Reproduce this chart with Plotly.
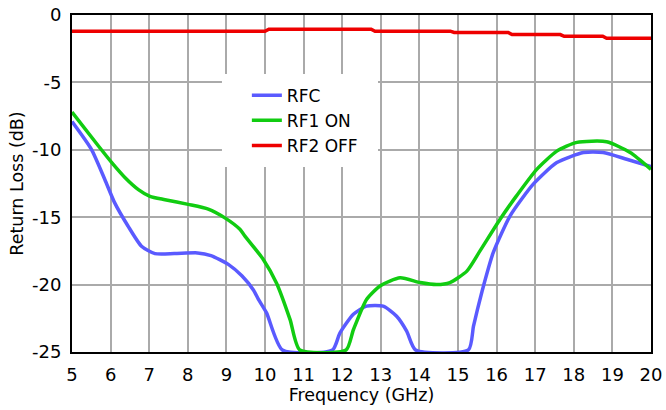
import plotly.graph_objects as go

# RFC (blue)
rfc_f = [5.0, 5.5, 5.85, 6.1, 6.45, 6.8, 7.15, 7.65, 8.25, 8.6, 9.05, 9.4, 9.7, 9.83, 10.04,
         10.45, 11.75, 11.94, 12.29, 12.63, 13.06, 13.41, 13.67, 13.9, 15.27, 15.4, 15.5,
         15.66, 15.91, 16.35, 16.95, 17.56, 18.25, 18.76, 19.37, 20.0]
rfc_db = [-7.9, -9.95, -12.2, -13.9, -15.65, -17.15, -17.7, -17.7, -17.65, -17.85, -18.5,
          -19.35, -20.4, -21.1, -22.1, -24.85, -24.85, -23.6, -22.2, -21.6, -21.6, -22.35,
          -23.45, -24.85, -24.85, -23.1, -21.9, -20.1, -17.65, -14.9, -12.55, -10.95, -10.2,
          -10.2, -10.7, -11.25]

# RF1 ON (green)
rf1_f = [5.0, 5.68, 6.03, 6.37, 6.72, 7.02, 7.41, 8.01, 8.53, 8.96, 9.35, 9.48, 9.96, 10.3,
         10.65, 10.9, 12.1, 12.29, 12.63, 12.98, 13.5, 14.02, 14.45, 14.79, 15.23, 15.57,
         16.09, 16.52, 17.04, 17.56, 18.08, 18.85, 19.46, 20.0]
rf1_db = [-7.2, -9.7, -10.95, -12.05, -12.95, -13.45, -13.7, -14.05, -14.4, -15.05, -15.9,
          -16.4, -18.15, -19.9, -22.6, -24.85, -24.85, -23.35, -21.1, -20.1, -19.5, -19.85,
          -20.0, -19.85, -19.0, -17.5, -15.15, -13.4, -11.45, -10.1, -9.45, -9.4, -10.2, -11.45]

# RF2 OFF (red)
rf2_f = [5.0, 10.0, 10.1, 12.75, 12.85, 14.8, 14.9, 16.3, 16.4, 17.65, 17.75, 18.75, 18.85, 20.0]
rf2_db = [-1.2, -1.2, -1.05, -1.05, -1.2, -1.2, -1.3, -1.3, -1.45, -1.45, -1.58, -1.58, -1.73, -1.73]

x_ticks = list(range(5, 21))
y_ticks = [0, -5, -10, -15, -20, -25]

FONT = "DejaVu Sans"

fig = go.Figure()
fig.add_trace(go.Scatter(x=rfc_f, y=rfc_db, mode="lines", name="RFC",
                         line=dict(color="#5a5aff", width=3.5, shape="spline", smoothing=0.6)))
fig.add_trace(go.Scatter(x=rf1_f, y=rf1_db, mode="lines", name="RF1 ON",
                         line=dict(color="#11cc11", width=3.5, shape="spline", smoothing=0.6)))
fig.add_trace(go.Scatter(x=rf2_f, y=rf2_db, mode="lines", name="RF2 OFF",
                         line=dict(color="#ee0000", width=3.5)))

fig.update_layout(
    width=666, height=410,
    margin=dict(l=72, r=15, t=15, b=58, autoexpand=False),
    plot_bgcolor="white", paper_bgcolor="white",
    font=dict(family=FONT, size=18, color="black"),
    showlegend=True,
    legend=dict(x=0.302, y=0.814, xanchor="left", yanchor="top",
                bgcolor="rgba(0,0,0,0)", borderwidth=0, font=dict(size=17, family=FONT)),
    shapes=[dict(type="rect", xref="paper", yref="paper", x0=0.259, x1=0.5285,
                 y0=0.549, y1=0.825, fillcolor="white", line=dict(width=0), layer="above")],
    xaxis=dict(range=[5, 20], tickvals=x_ticks, ticktext=[str(v) for v in x_ticks],
               showgrid=True, gridcolor="#aaaaaa", gridwidth=2,
               showline=True, linecolor="black", linewidth=2, mirror=True,
               ticks="outside", ticklen=5, tickcolor="rgba(0,0,0,0)",
               tickfont=dict(size=18, family=FONT),
               zeroline=False, automargin=False,
               title=dict(text="Frequency (GHz)", font=dict(size=17.5, family=FONT), standoff=4)),
    yaxis=dict(range=[-25, 0], tickvals=y_ticks, ticktext=[str(v) for v in y_ticks],
               showgrid=True, gridcolor="#aaaaaa", gridwidth=2,
               showline=True, linecolor="black", linewidth=2, mirror=True,
               ticks="outside", ticklen=5, tickcolor="rgba(0,0,0,0)",
               tickfont=dict(size=18, family=FONT),
               zeroline=False, automargin=False,
               title=dict(text="Return Loss (dB)", font=dict(size=17.5, family=FONT), standoff=4)),
)

fig.write_html("out.html", config={"displayModeBar": False},
               post_script="document.body.style.margin='0';document.body.style.overflow='hidden';")
